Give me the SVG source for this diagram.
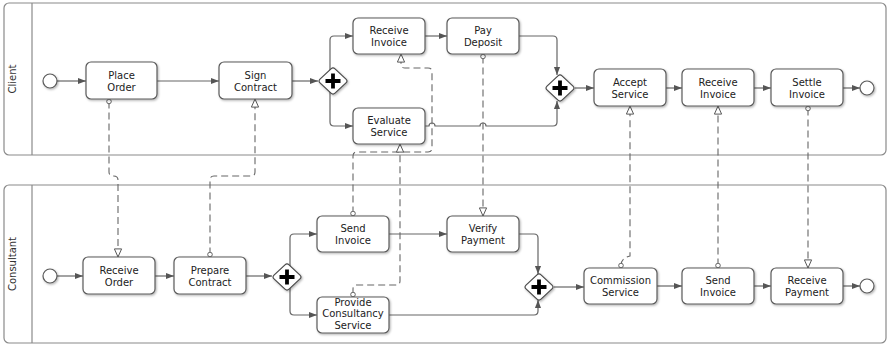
<svg xmlns="http://www.w3.org/2000/svg" xmlns:xlink="http://www.w3.org/1999/xlink" width="887" height="345" viewBox="0 0 887 345">
<style>
.pool{fill:#fff;stroke:#8a8a8a;stroke-width:1.2}
.div{stroke:#8a8a8a;stroke-width:1.2}
.task{fill:#fff;stroke:#5a5a5a;stroke-width:1.2;filter:url(#sh)}
.ev{fill:#fff;stroke:#5a5a5a;stroke-width:1.2;filter:url(#sh)}
.t{font-family:"DejaVu Sans","Open Sans",sans-serif;font-size:10px;fill:#222;text-anchor:middle}
.lbl{font-family:"DejaVu Sans","Open Sans",sans-serif;font-size:10px;fill:#333;text-anchor:middle}
.seq{fill:none;stroke:#666;stroke-width:1.2;marker-end:url(#arr)}
.msg{fill:none;stroke:#666;stroke-width:1.1;stroke-dasharray:7,4;marker-start:url(#dot);marker-end:url(#open)}
</style>
<defs>
<filter id="sh" x="-10%" y="-10%" width="130%" height="140%"><feDropShadow dx="1" dy="1.2" stdDeviation="0.8" flood-color="#000" flood-opacity="0.3"/></filter>
<marker id="arr" viewBox="0 0 10 10" refX="10" refY="5" markerWidth="8" markerHeight="8" markerUnits="userSpaceOnUse" orient="auto"><path d="M0,1.2 L10,5 L0,8.8 Z" fill="#555"/></marker>
<marker id="open" viewBox="0 0 10 10" refX="9.5" refY="5" markerWidth="9" markerHeight="9" markerUnits="userSpaceOnUse" orient="auto"><path d="M0.5,1 L9.5,5 L0.5,9 Z" fill="#fff" stroke="#555" stroke-width="1.1"/></marker>
<marker id="dot" viewBox="0 0 6 6" refX="3" refY="3" markerWidth="6" markerHeight="6" markerUnits="userSpaceOnUse"><circle cx="3" cy="3" r="2.3" fill="#fff" stroke="#555" stroke-width="0.9"/></marker>
<g id="gw">
<path d="M-13,-1.9 L-2,-12.1 Q0,-14 2,-12.1 L13,-1.9 Q15,0 13,1.9 L2,12.1 Q0,14 -2,12.1 L-13,1.9 Q-15,0 -13,-1.9 Z" fill="#fff" stroke="#4a4a4a" stroke-width="1.2" filter="url(#sh)"/>
<path d="M-7.5,0 H7.5 M0,-7.5 V7.5" stroke="#000" stroke-width="3.8"/>
</g>
</defs>

<g id="pool-client">
<rect class="pool" x="4" y="3" width="882" height="152" rx="5"/>
<line class="div" x1="32" y1="3" x2="32" y2="155"/>
<text class="lbl" transform="translate(16,79) rotate(-90)">Client</text>
</g>
<g id="pool-consultant">
<rect class="pool" x="4" y="185" width="882" height="158" rx="5"/>
<line class="div" x1="32" y1="185" x2="32" y2="343"/>
<text class="lbl" transform="translate(16,264) rotate(-90)">Consultant</text>
</g>

<g id="connectors">
<path class="seq" d="M57,81 H86"/>
<path class="seq" d="M157,81 H219"/>
<path class="seq" d="M292,81 H318"/>
<path class="seq" d="M330,70 V40 Q330,36 334,36 H353"/>
<path class="seq" d="M330,92 V122 Q330,126 334,126 H353"/>
<path class="seq" d="M425,36 H447"/>
<path class="seq" d="M519,36 H553 Q557,36 557,40 V75"/>
<path class="seq" d="M425,126 H429 A3,3 0 0 1 435,126 H480 A3,3 0 0 1 486,126 H553 Q557,126 557,122 V101"/>
<path class="seq" d="M575,88 H594"/>
<path class="seq" d="M666,88 H682"/>
<path class="seq" d="M754,88 H771"/>
<path class="seq" d="M843,88 H860"/>

<path class="seq" d="M57,276 H83"/>
<path class="seq" d="M155,276 H174"/>
<path class="seq" d="M246,276 H272"/>
<path class="seq" d="M290,266 V238 Q290,234 294,234 H317"/>
<path class="seq" d="M290,288 V311 Q290,315 294,315 H317"/>
<path class="seq" d="M389,234 H447"/>
<path class="seq" d="M519,234 H534 Q538,234 538,238 V274"/>
<path class="seq" d="M389,315 H534 Q538,315 538,311 V300"/>
<path class="seq" d="M554,287 H584"/>
<path class="seq" d="M657,286 H682"/>
<path class="seq" d="M754,286 H771"/>
<path class="seq" d="M843,286 H860"/>

<path class="msg" d="M109,101.5 V172 Q109,176 113.5,176 Q118,176 118,180 V257"/>
<path class="msg" d="M210,254.5 V180 Q210,176 214,176 H251 Q255,176 255,172 V99"/>
<path class="msg" d="M353,213.5 V156 Q353,152 357,152 H428 Q432,152 432,148 V72 Q432,68 428,68 H405 Q401,68 401,64 V54"/>
<path class="msg" d="M483,56.5 V216"/>
<path class="msg" d="M353,294.5 V289 Q353,285 357,285 H396 Q400,285 400,281 V144"/>
<path class="msg" d="M621,265.5 Q621,258 630,256 V106"/>
<path class="msg" d="M718,265.5 V106"/>
<path class="msg" d="M808,108.5 V268"/>
</g>

<g id="start-client"><circle class="ev" cx="50" cy="81" r="7"/></g>
<g id="place-order"><rect class="task" x="86" y="62" width="71" height="37" rx="5"/><text class="t" y="78.5"><tspan x="121.5">Place</tspan><tspan x="121.5" dy="12">Order</tspan></text></g>
<g id="sign-contract"><rect class="task" x="219" y="62" width="73" height="37" rx="5"/><text class="t" y="78.5"><tspan x="255.5">Sign</tspan><tspan x="255.5" dy="12">Contract</tspan></text></g>
<g id="gateway-client-split"><use xlink:href="#gw" href="#gw" x="333" y="81"/></g>
<g id="receive-invoice-client"><rect class="task" x="353" y="18" width="72" height="36" rx="5"/><text class="t" y="34"><tspan x="389">Receive</tspan><tspan x="389" dy="12">Invoice</tspan></text></g>
<g id="pay-deposit"><rect class="task" x="447" y="18" width="72" height="36" rx="5"/><text class="t" y="34"><tspan x="483">Pay</tspan><tspan x="483" dy="12">Deposit</tspan></text></g>
<g id="evaluate-service"><rect class="task" x="353" y="108" width="72" height="36" rx="5"/><text class="t" y="124"><tspan x="389">Evaluate</tspan><tspan x="389" dy="12">Service</tspan></text></g>
<g id="gateway-client-join"><use xlink:href="#gw" href="#gw" x="560" y="88"/></g>
<g id="accept-service"><rect class="task" x="594" y="69" width="72" height="37" rx="5"/><text class="t" y="85.5"><tspan x="630">Accept</tspan><tspan x="630" dy="12">Service</tspan></text></g>
<g id="receive-invoice-client-2"><rect class="task" x="682" y="69" width="72" height="37" rx="5"/><text class="t" y="85.5"><tspan x="718">Receive</tspan><tspan x="718" dy="12">Invoice</tspan></text></g>
<g id="settle-invoice"><rect class="task" x="771" y="69" width="72" height="37" rx="5"/><text class="t" y="85.5"><tspan x="807">Settle</tspan><tspan x="807" dy="12">Invoice</tspan></text></g>
<g id="end-client"><circle class="ev" cx="867" cy="88" r="7"/></g>

<g id="start-consultant"><circle class="ev" cx="50" cy="276" r="7"/></g>
<g id="receive-order"><rect class="task" x="83" y="257" width="72" height="37" rx="5"/><text class="t" y="273.5"><tspan x="119">Receive</tspan><tspan x="119" dy="12">Order</tspan></text></g>
<g id="prepare-contract"><rect class="task" x="174" y="257" width="72" height="37" rx="5"/><text class="t" y="273.5"><tspan x="210">Prepare</tspan><tspan x="210" dy="12">Contract</tspan></text></g>
<g id="gateway-consultant-split"><use xlink:href="#gw" href="#gw" x="287" y="277"/></g>
<g id="send-invoice"><rect class="task" x="317" y="216" width="72" height="36" rx="5"/><text class="t" y="232"><tspan x="353">Send</tspan><tspan x="353" dy="12">Invoice</tspan></text></g>
<g id="verify-payment"><rect class="task" x="447" y="216" width="72" height="36" rx="5"/><text class="t" y="232"><tspan x="483">Verify</tspan><tspan x="483" dy="12">Payment</tspan></text></g>
<g id="provide-consultancy-service"><rect class="task" x="317" y="297" width="72" height="36" rx="5"/><text class="t" y="305.5"><tspan x="353">Provide</tspan><tspan x="353" dy="11.7">Consultancy</tspan><tspan x="353" dy="11.7">Service</tspan></text></g>
<g id="gateway-consultant-join"><use xlink:href="#gw" href="#gw" x="539" y="287"/></g>
<g id="commission-service"><rect class="task" x="584" y="268" width="73" height="36" rx="5"/><text class="t" y="284"><tspan x="620.5">Commission</tspan><tspan x="620.5" dy="12">Service</tspan></text></g>
<g id="send-invoice-2"><rect class="task" x="682" y="268" width="72" height="36" rx="5"/><text class="t" y="284"><tspan x="718">Send</tspan><tspan x="718" dy="12">Invoice</tspan></text></g>
<g id="receive-payment"><rect class="task" x="771" y="268" width="72" height="36" rx="5"/><text class="t" y="284"><tspan x="807">Receive</tspan><tspan x="807" dy="12">Payment</tspan></text></g>
<g id="end-consultant"><circle class="ev" cx="867" cy="286" r="7"/></g>
</svg>
